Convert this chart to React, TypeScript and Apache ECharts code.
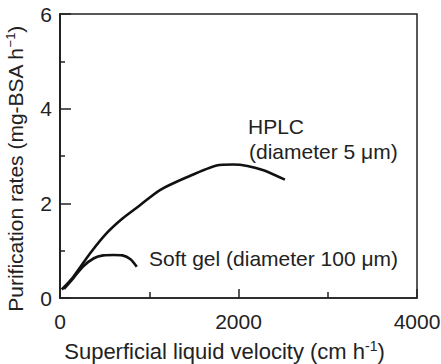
import React, { useEffect, useRef } from "react";
import * as echarts from "echarts";

const hplcX = [20, 150, 336, 523, 700, 896, 1120, 1420, 1755, 1940, 2100, 2280, 2520];
const hplcY = [0.18, 0.45, 0.94, 1.37, 1.68, 1.96, 2.28, 2.55, 2.8, 2.82, 2.79, 2.7, 2.5];
const gelX = [45, 150, 261, 380, 485, 600, 700, 790, 860];
const gelY = [0.19, 0.42, 0.67, 0.84, 0.9, 0.91, 0.9, 0.82, 0.66];

const FONT = "'Liberation Sans', Arial, Helvetica, sans-serif";
const INK = "#222";

export default function App() {
  const ref = useRef<HTMLDivElement>(null);
  useEffect(() => {
    if (!ref.current) return;
    const chart = echarts.init(ref.current, undefined, { renderer: "svg" });
    const hplc = hplcX.map((x, i) => [x, hplcY[i]]);
    const gel = gelX.map((x, i) => [x, gelY[i]]);
    chart.setOption({
      animation: false,
      backgroundColor: "#fff",
      grid: {
        left: 60,
        right: 24,
        top: 14,
        bottom: 66,
        show: true,
        borderColor: INK,
        borderWidth: 1.5,
        backgroundColor: "transparent",
        containLabel: false,
        outerBoundsMode: "none",
      },
      xAxis: {
        type: "value",
        min: 0,
        max: 4000,
        interval: 2000,
        name: "Superficial liquid velocity (cm h{sup|-1})",
        nameLocation: "middle",
        nameGap: 41,
        nameTextStyle: {
          fontFamily: FONT,
          fontSize: 22,
          color: INK,
          padding: [0, 28, 0, 0],
          rich: { sup: { fontSize: 14, fontFamily: FONT, color: INK, padding: [0, 0, 11, 0] } },
        },
        axisLine: { lineStyle: { color: INK, width: 1.5 } },
        axisTick: { inside: true, length: 9, lineStyle: { color: INK, width: 1.5 } },
        minorTick: { show: true, splitNumber: 2, length: 6, lineStyle: { color: INK, width: 1.5 } },
        splitLine: { show: false },
        axisLabel: {
          fontFamily: FONT,
          fontSize: 21,
          color: INK,
          margin: 13,
          formatter: (v: number) => String(v),
        },
      },
      yAxis: {
        type: "value",
        min: 0,
        max: 6,
        interval: 2,
        name: "Purification rates (mg-BSA h{sup|−1})",
        nameLocation: "middle",
        nameGap: 33,
        nameTextStyle: {
          fontFamily: FONT,
          fontSize: 21,
          color: INK,
          padding: [0, 26, 0, 0],
          rich: { sup: { fontSize: 13, fontFamily: FONT, color: INK, padding: [0, 0, 10, 0] } },
        },
        axisLine: { lineStyle: { color: INK, width: 2 } },
        axisTick: { inside: true, length: 11, lineStyle: { color: INK, width: 1.5 } },
        minorTick: { show: true, splitNumber: 2, length: 5, lineStyle: { color: INK, width: 1.5 } },
        splitLine: { show: false },
        axisLabel: { fontFamily: FONT, fontSize: 21, color: INK, margin: 8, formatter: (v: number) => String(v) },
      },
      series: [
        {
          type: "line",
          data: hplc,
          smooth: 0.25,
          symbol: "none",
          lineStyle: { color: "#111", width: 2.6 },
        },
        {
          type: "line",
          data: gel,
          smooth: 0.3,
          symbol: "none",
          lineStyle: { color: "#111", width: 2.6 },
        },
      ],
      graphic: [
        {
          type: "text",
          x: 248,
          y: 126,
          style: { text: "HPLC", font: `21px ${FONT}`, fill: INK, verticalAlign: "middle" },
        },
        {
          type: "text",
          x: 249,
          y: 151,
          style: { text: "(diameter 5 μm)", font: `21px ${FONT}`, fill: INK, verticalAlign: "middle" },
        },
        {
          type: "text",
          x: 149,
          y: 258,
          style: { text: "Soft gel (diameter 100 μm)", font: `21px ${FONT}`, fill: INK, verticalAlign: "middle" },
        },
      ],
    });
    return () => chart.dispose();
  }, []);
  return <div ref={ref} style={{ width: 441, height: 364, position: "absolute", left: 0, top: 0 }} />;
}
